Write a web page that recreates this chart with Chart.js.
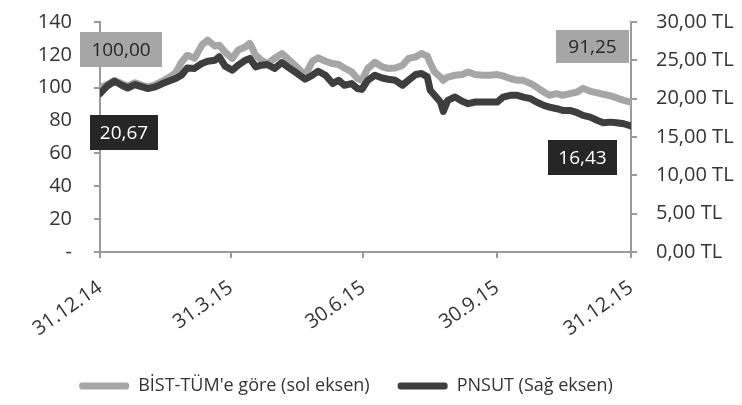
<!DOCTYPE html>
<html>
<head>
<meta charset="utf-8">
<script src="https://cdn.jsdelivr.net/npm/chart.js"></script>
<style>
  body { margin: 0; background: #fff; }
</style>
</head>
<body>
<canvas id="pnsut" width="742" height="405"></canvas>
<script>
// days since 31.12.14
var days = [0, 5, 10, 15, 19, 24, 29, 33, 38, 43, 47, 52, 56, 60, 65, 70, 74, 79, 82, 86,
  91, 95, 100, 103, 107, 111, 115, 120, 125, 129, 134, 141, 146, 150, 155, 160, 164, 168, 173, 177,
  180, 184, 189, 194, 198, 203, 208, 212, 217, 221, 225, 227, 230, 234, 236, 239, 244, 249, 253, 258,
  263, 268, 273, 277, 282, 287, 291, 296, 300, 305, 309, 314, 318, 323, 328, 332, 337, 342, 346, 351,
  355, 360, 365];

// BIST-TUM relative (left axis)
var bistVals = [100.0, 102.0, 104.5, 102.5, 101.0, 103.0, 101.5, 100.5, 101.8, 104.0, 106.0, 109.0, 115.5, 119.8, 118.0, 125.9, 129.0, 125.3, 125.9, 121.6,
  117.8, 122.9, 124.9, 127.0, 119.8, 116.7, 114.7, 117.8, 120.8, 117.8, 113.7, 107.6, 116.1, 118.2, 116.1, 114.7, 114.1, 112.0, 109.6, 105.6,
  104.5, 111.7, 115.5, 112.7, 111.7, 112.0, 113.7, 117.8, 118.8, 120.8, 119.2, 114.9, 109.6, 106.5, 104.5, 106.5, 107.6, 108.0, 109.6, 108.0,
  107.6, 107.6, 108.0, 107.2, 105.6, 104.5, 104.5, 102.5, 100.4, 97.4, 95.4, 96.4, 95.4, 96.4, 97.4, 99.6, 97.8, 96.9, 96.0, 95.0,
  93.8, 92.3, 91.25];

// PNSUT price in TL (right axis)
var pnsutVals = [20.67, 21.66, 22.27, 21.75, 21.39, 21.84, 21.53, 21.32, 21.53, 21.97, 22.27, 22.63, 23.06, 24.01, 23.94, 24.59, 24.89, 25.02, 25.46, 24.24,
  23.71, 24.37, 25.02, 25.25, 24.15, 24.37, 24.46, 23.94, 24.72, 24.15, 23.49, 22.53, 23.06, 23.58, 23.06, 21.97, 22.40, 21.75, 21.97, 21.32,
  21.21, 22.40, 23.06, 22.70, 22.53, 22.40, 21.75, 22.40, 23.15, 23.28, 22.84, 21.09, 20.44, 19.56, 18.34, 19.78, 20.21, 19.65, 19.35, 19.56,
  19.56, 19.56, 19.56, 20.21, 20.44, 20.44, 20.21, 20.00, 19.56, 19.13, 18.90, 18.69, 18.47, 18.47, 18.17, 17.82, 17.59, 17.16, 16.86, 16.94,
  16.86, 16.73, 16.43];

var tickDays = [0, 90, 181, 273, 365];
var tickLabels = ['31.12.14', '31.3.15', '30.6.15', '30.9.15', '31.12.15'];
var seriesNames = ["BİST-TÜM'e göre (sol eksen)", 'PNSUT (Sağ eksen)'];

var lightGrey = '#a6a6a6';
var darkGrey = '#3e3e3e';
var axisColor = '#9a9a9a';
var textColor = '#333333';
var fontFamily = "'Open Sans', sans-serif";

function trNum(v) {
    return v.toFixed(2).replace('.', ',');
}

function points(vals) {
    return days.map(function (d, i) { return { x: d, y: vals[i] }; });
}

// fixed axis width, no extra top/bottom padding from the tick labels
function fixWidth(w) {
    return function (scale) {
        scale.width = w;
        scale.paddingTop = 0;
        scale.paddingBottom = 0;
    };
}

// value boxes at the start and end of both lines
var valueBoxes = {
    id: 'valueBoxes',
    afterDraw: function (chart) {
        var ctx = chart.ctx;
        var x0 = chart.scales.x.getPixelForValue(days[0]);
        var x1 = chart.scales.x.getPixelForValue(days[days.length - 1]);
        var boxes = [
            { text: trNum(bistVals[0]), left: x0 - 20, top: 32, w: 82, h: 35, bg: lightGrey, fg: '#262626' },
            { text: trNum(pnsutVals[0]), left: x0 - 10, top: 115, w: 68, h: 35, bg: '#262626', fg: '#ffffff' },
            { text: trNum(bistVals[bistVals.length - 1]), left: x1 - 75, top: 30, w: 73, h: 33, bg: lightGrey, fg: '#262626' },
            { text: trNum(pnsutVals[pnsutVals.length - 1]), left: x1 - 83, top: 140, w: 69, h: 35, bg: '#262626', fg: '#ffffff' }
        ];
        ctx.save();
        ctx.font = '19px ' + fontFamily;
        ctx.textAlign = 'center';
        ctx.textBaseline = 'middle';
        boxes.forEach(function (b) {
            ctx.fillStyle = b.bg;
            ctx.fillRect(b.left, b.top, b.w, b.h);
            ctx.fillStyle = b.fg;
            ctx.fillText(b.text, b.left + b.w / 2, b.top + b.h / 2 + 1);
        });
        ctx.restore();
    }
};

// legend sits a bit left of centre in the original
var legendShift = {
    id: 'legendShift',
    afterLayout: function (chart) {
        chart.legend.left -= 25;
        chart.legend.right -= 25;
    }
};

var ctx = document.getElementById('pnsut').getContext('2d');
var chart = new Chart(ctx, {
    type: 'line',
    data: {
        datasets: [{
            label: seriesNames[1],
            data: points(pnsutVals),
            yAxisID: 'y1',
            borderColor: darkGrey,
            backgroundColor: darkGrey,
            borderWidth: 7,
            pointRadius: 0,
            borderJoinStyle: 'round',
            borderCapStyle: 'round'
        }, {
            label: seriesNames[0],
            data: points(bistVals),
            yAxisID: 'y',
            borderColor: lightGrey,
            backgroundColor: lightGrey,
            borderWidth: 7,
            pointRadius: 0,
            borderJoinStyle: 'round',
            borderCapStyle: 'round'
        }]
    },
    options: {
        responsive: false,
        animation: false,
        devicePixelRatio: 1,
        layout: {
            padding: { top: 22, bottom: 0, left: 0, right: 0 }
        },
        scales: {
            x: {
                type: 'linear',
                min: 0,
                max: 365,
                afterBuildTicks: function (scale) {
                    scale.ticks = tickDays.map(function (d) { return { value: d }; });
                },
                afterFit: function (scale) { scale.height = 97; },
                ticks: {
                    autoSkip: false,
                    minRotation: 35,
                    maxRotation: 35,
                    padding: 18,
                    color: textColor,
                    font: { family: fontFamily, size: 20 },
                    callback: function (v, i) { return tickLabels[i]; }
                },
                grid: { drawOnChartArea: false, drawTicks: true, tickLength: 6, color: axisColor, lineWidth: 2 },
                border: { color: axisColor, width: 2 }
            },
            y: {
                position: 'left',
                min: 0,
                max: 140,
                afterFit: fixWidth(100),
                ticks: {
                    stepSize: 20,
                    padding: 22,
                    color: textColor,
                    font: { family: fontFamily, size: 20 },
                    callback: function (v) { return v === 0 ? '-' : v; }
                },
                grid: { drawOnChartArea: false, drawTicks: true, tickLength: 6, color: axisColor, lineWidth: 2 },
                border: { color: axisColor, width: 2 }
            },
            y1: {
                position: 'right',
                min: 0,
                max: 30,
                afterFit: fixWidth(111),
                ticks: {
                    stepSize: 5,
                    padding: 19,
                    color: textColor,
                    font: { family: fontFamily, size: 20 },
                    callback: function (v) { return trNum(v) + ' TL'; }
                },
                grid: { drawOnChartArea: false, drawTicks: true, tickLength: 6, color: axisColor, lineWidth: 2 },
                border: { color: axisColor, width: 2 }
            }
        },
        plugins: {
            legend: {
                position: 'bottom',
                labels: {
                    boxWidth: 50,
                    boxHeight: 7,
                    padding: 28,
                    color: textColor,
                    font: { family: fontFamily, size: 18 },
                    sort: function (a, b) { return b.datasetIndex - a.datasetIndex; },
                    generateLabels: function (chart) {
                        var items = Chart.defaults.plugins.legend.labels.generateLabels(chart);
                        items.forEach(function (it) {
                            it.lineWidth = 0;
                            it.borderRadius = 3;
                        });
                        return items;
                    }
                }
            },
            tooltip: { enabled: false }
        }
    },
    plugins: [valueBoxes, legendShift]
});
</script>
</body>
</html>
